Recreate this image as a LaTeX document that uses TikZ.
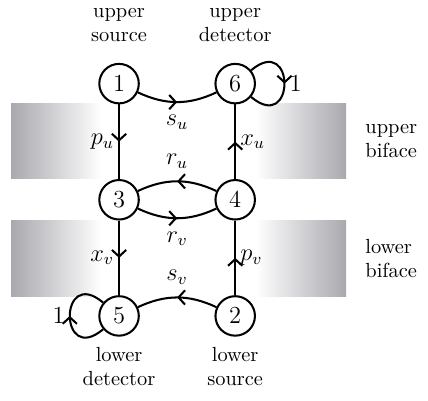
\documentclass[tikz,border=0pt]{standalone}
\usepackage{amsmath}
\usepackage{tikz}
\usetikzlibrary{arrows.meta,decorations.markings,positioning}
\definecolor{bifacegray}{RGB}{168,168,174}

\begin{document}
\begin{tikzpicture}[
		vertex/.style={circle,fill=white,draw,inner sep=0pt,line width=1pt,minimum size=0.68cm,font=\fontsize{13}{15}\selectfont},
		flow/.style={line width=1pt,postaction={decorate},
			decoration={markings,mark=at position 0.5 with {\arrow{Straight Barb[length=3.2pt,width=7pt,line width=1pt]}}}},
		caption/.style={align=center,inner sep=1pt},
		weight/.style={inner sep=2pt,font=\large},
		]
		\useasboundingbox (-2.05,-1.45) rectangle (5.32,5.44);

		% the two bifaces
		\shade[left color=bifacegray,right color=white,draw=none] (-1.86,2.36) rectangle (-0.3,3.66);
		\shade[left color=white,right color=bifacegray,draw=none] (2.35,2.36) rectangle (3.91,3.66);
		\shade[left color=bifacegray,right color=white,draw=none] (-1.86,0.34) rectangle (-0.3,1.64);
		\shade[left color=white,right color=bifacegray,draw=none] (2.35,0.34) rectangle (3.91,1.64);

		\node[vertex](n1) at (0,4) {$1$};
		\node[vertex](n6) at (2,4) {$6$};
		\node[vertex](n3) at (0,2) {$3$};
		\node[vertex](n4) at (2,2) {$4$};
		\node[vertex](n5) at (0,0) {$5$};
		\node[vertex](n2) at (2,0) {$2$};

		\node[caption,above=9pt of n1](usrc) {upper\\source};
		\node[caption,above=9pt of n6](udet) {upper\\detector};
		\node[caption,below=4pt of n5](ldet) {lower\\detector};
		\node[caption,below=4pt of n2](lsrc) {lower\\source};
		\node[caption,align=left,anchor=west](ubif) at (4.2,3.01) {upper\\biface};
		\node[caption,align=left,anchor=west](lbif) at (4.2,0.99) {lower\\biface};

		\draw[flow] (n1) to[bend right=25] node[weight,below=4pt]{$s_u$} (n6);
		\draw[flow] (n1) -- node[weight,left]{$p_u$} (n3);
		\draw[flow] (n4) -- node[weight,right]{$x_u$} (n6);
		\draw[flow] (n4) to[bend right=25] node[weight,above=4pt]{$r_u$} (n3);
		\draw[flow] (n3) to[bend right=25] node[weight,below=4pt]{$r_v$} (n4);
		\draw[flow] (n3) -- node[weight,left]{$x_v$} (n5);
		\draw[flow] (n2) -- node[weight,right]{$p_v$} (n4);
		\draw[flow] (n2) to[bend right=25] node[weight,above=4pt]{$s_v$} (n5);
		\draw[flow] (n6) to[out=40,in=-40,distance=1cm] node[weight,right,font=\fontsize{13}{15}\selectfont]{$1$} (n6);
		\draw[flow] (n5) to[out=220,in=140,distance=1cm] node[weight,left,font=\fontsize{13}{15}\selectfont]{$1$} (n5);
	\end{tikzpicture}
\end{document}
